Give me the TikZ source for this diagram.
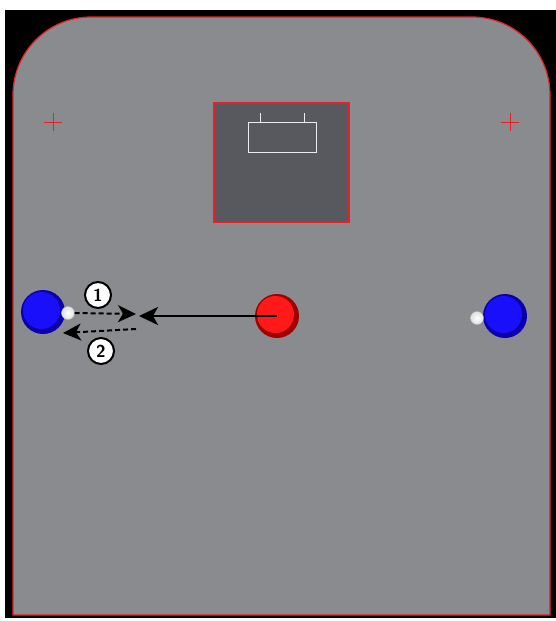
\documentclass[tikz,border=0pt]{standalone}
\usepackage{tikz}
\usetikzlibrary{arrows.meta}
\definecolor{court}{RGB}{138,139,143}
\definecolor{netbox}{RGB}{88,89,94}
\definecolor{rink}{RGB}{232,30,40}
\definecolor{bluelo}{RGB}{10,0,170}
\definecolor{bluehi}{RGB}{25,15,250}
\definecolor{redlo}{RGB}{160,0,0}
\definecolor{redhi}{RGB}{255,25,25}
\tikzset{
  puck/.style 2 args={
    circle, minimum size=44pt, inner sep=0pt, fill=#1,
    path picture={\fill[#2] ([xshift=-1.5pt,yshift=1.5pt]path picture bounding box.center) circle (18.5pt);}
  },
  ball/.style={
    circle, minimum size=13pt, inner sep=0pt, draw=gray!55, line width=0.4pt,
    inner color=white, outer color=gray!25
  },
  numlabel/.style={
    circle, draw=black, line width=2pt, fill=white, minimum size=26pt,
    inner sep=0pt, font=\sffamily\bfseries\LARGE
  },
  pass/.style={line width=2pt, dash pattern=on 5pt off 3pt, -{Stealth[length=18pt,width=17pt,inset=5pt]}},
  shot/.style={line width=2pt, -{Stealth[length=19pt,width=18pt,inset=5pt]}},
  crossmark/.style={draw=rink, line width=1pt},
}

\begin{document}
\begin{tikzpicture}[x=1pt, y=-1pt]
  \useasboundingbox (0,0) rectangle (556,621);
  \fill[white] (0,0) rectangle (556,621);
  \fill[black] (5,10) rectangle (556,618);

  % court
  \draw[rink, fill=court, line width=1.2pt]
    (13,615) -- (13,95) arc[start angle=180, end angle=270, radius=78] -- (472,17)
    arc[start angle=270, end angle=360, radius=78] -- (550,615) -- cycle;

  % crosses
  \draw[crossmark] (44,122) -- (62,122) (53,113) -- (53,131);
  \draw[crossmark] (501,122) -- (519,122) (510,113) -- (510,131);

  % goal area
  \draw[rink, fill=netbox, line width=1.2pt] (214,103) rectangle (349,222);
  \draw[white!85!gray, line width=1pt] (248,122) rectangle (316,152)
    (260,122) -- (260,113) (304,122) -- (304,113);

  % players
  \node[puck={bluelo}{bluehi}] (lp) at (43,312) {};
  \node[puck={bluelo}{bluehi}] (rpb) at (505,316) {};
  \node[puck={redlo}{redhi}] (rp) at (277,316) {};
  \node[ball] (lball) at (68,313) {};
  \node[ball] (rball) at (477,318) {};

  \coordinate (tipS) at (139,316);
  \coordinate (p1) at (136,314);
  \coordinate (q2) at (136,329);
  \coordinate (p2) at (63,333);

  \draw[shot] (rp.center) -- (tipS);
  \draw[pass] (lball.east) -- (p1);
  \draw[pass] (q2) -- (p2);

  \node[numlabel] (n1) at (98,295) {1};
  \node[numlabel] (n2) at (101,351) {2};
\end{tikzpicture}
\end{document}
